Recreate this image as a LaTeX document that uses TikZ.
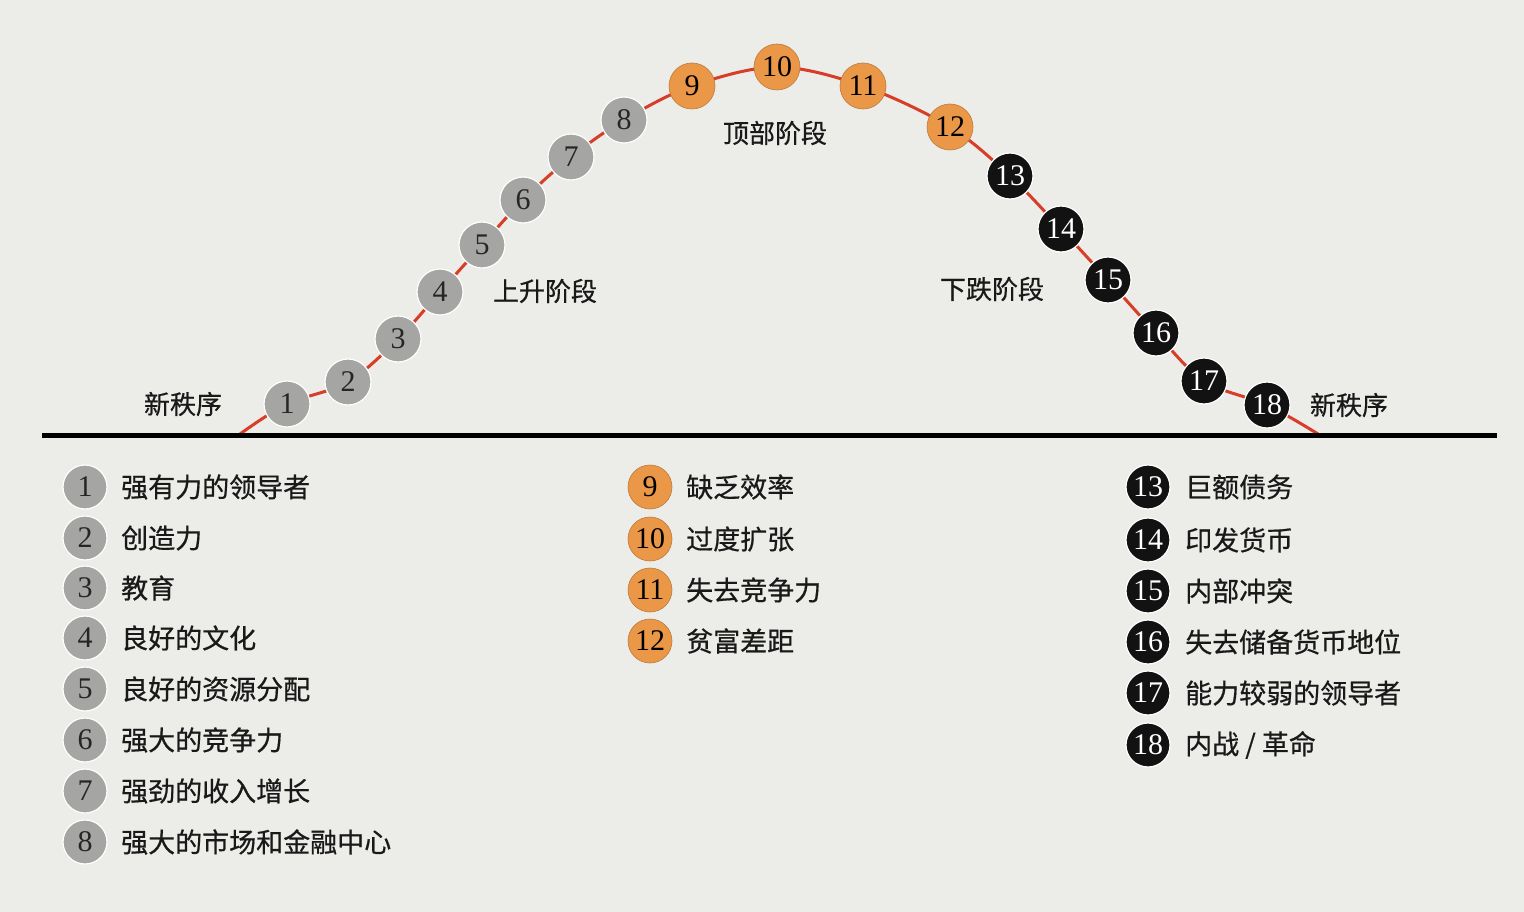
\documentclass[tikz,border=0pt]{standalone}
\usepackage{fontspec}
\setmainfont{Liberation Serif}
\newfontfamily\cjk[FakeBold=0.6]{Noto Sans CJK SC}
\definecolor{bgcol}{RGB}{236,236,233}
\definecolor{graycol}{RGB}{165,165,163}
\definecolor{orangecol}{RGB}{234,152,72}
\definecolor{blackcol}{RGB}{18,18,18}
\definecolor{redcol}{RGB}{214,62,40}
\pgfdeclarelayer{back}
\pgfdeclarelayer{bg}
\pgfsetlayers{back,bg,main}
\begin{document}
\begin{tikzpicture}[x=1pt,y=-1pt,
  base/.style={circle, inner sep=0pt, minimum size=46pt, line width=1.2pt, draw=white, font=\fontsize{30}{30}\selectfont},
  gc/.style={base, fill=graycol, text=black!85},
  oc/.style={base, fill=orangecol, text=black, draw=orangecol!80!black, line width=0.6pt},
  bc/.style={base, fill=blackcol, text=white},
  lg/.style={minimum size=44pt},
  lbl/.style={font=\cjk\fontsize{26}{26}\selectfont, text=black!90, inner sep=0pt},
  item/.style={font=\cjk\fontsize{27}{27}\selectfont, text=black!90, anchor=west, inner sep=0pt},
  curve/.style={draw=redcol, line width=3pt, line cap=round}]
\useasboundingbox (0,0) rectangle (1524,912);
\begin{pgfonlayer}{back}
\fill[bgcol] (0,0) rectangle (1524,912);
\end{pgfonlayer}
% baseline
\coordinate (L) at (42,435);
\coordinate (R) at (1497,435);
\draw[line width=5pt, black] (L) -- (R);
% curve circles
\node[gc] (n1) at (287,404) {1};
\node[gc] (n2) at (348,382) {2};
\node[gc] (n3) at (398,339) {3};
\node[gc] (n4) at (440,292) {4};
\node[gc] (n5) at (482,245) {5};
\node[gc] (n6) at (523,200) {6};
\node[gc] (n7) at (571,157) {7};
\node[gc] (n8) at (624,120) {8};
\node[oc] (n9) at (692,86) {9};
\node[oc] (n10) at (777,67) {10};
\node[oc] (n11) at (863,86) {11};
\node[oc] (n12) at (950,127) {12};
\node[bc] (n13) at (1010,176) {13};
\node[bc] (n14) at (1061,229) {14};
\node[bc] (n15) at (1108,280) {15};
\node[bc] (n16) at (1156,333) {16};
\node[bc] (n17) at (1204,381) {17};
\node[bc] (n18) at (1267,405) {18};
\coordinate (cs) at (240,434);
\coordinate (ce) at (1318,434);
\begin{pgfonlayer}{bg}
\draw[curve] plot[smooth, tension=0.55] coordinates {(cs) (n1) (n2) (n3) (n4) (n5) (n6) (n7) (n8) (n9) (n10) (n11) (n12) (n13) (n14) (n15) (n16) (n17) (n18) (ce)};
\end{pgfonlayer}
% phase labels
\node[lbl] (t1) at (183,404) {新秩序};
\node[lbl] (t2) at (545,291) {上升阶段};
\node[lbl] (t3) at (775,133) {顶部阶段};
\node[lbl] (t4) at (992,289) {下跌阶段};
\node[lbl] (t5) at (1349,405) {新秩序};
% legend column 1
\foreach \n/\y/\t in {1/487/强有力的领导者, 2/538/创造力, 3/588/教育, 4/638/良好的文化, 5/689/良好的资源分配, 6/740/强大的竞争力, 7/791/强劲的收入增长, 8/842/强大的市场和金融中心}{
  \node[gc, lg] (a\n) at (85,\y) {\n};
  \node[item] (at\n) at (121,\y) {\t};
}
% legend column 2
\foreach \n/\y/\t in {9/487/缺乏效率, 10/539/过度扩张, 11/590/失去竞争力, 12/641/贫富差距}{
  \node[oc, lg] (b\n) at (650,\y) {\n};
  \node[item] (bt\n) at (686,\y) {\t};
}
% legend column 3
\foreach \n/\y/\t in {13/487/巨额债务, 14/540/印发货币, 15/591/内部冲突, 16/642/失去储备货币地位, 17/693/能力较弱的领导者, 18/745/{内战 / 革命}}{
  \node[bc, lg] (c\n) at (1148,\y) {\n};
  \node[item] (ct\n) at (1185,\y) {\t};
}
\end{tikzpicture}
\end{document}
